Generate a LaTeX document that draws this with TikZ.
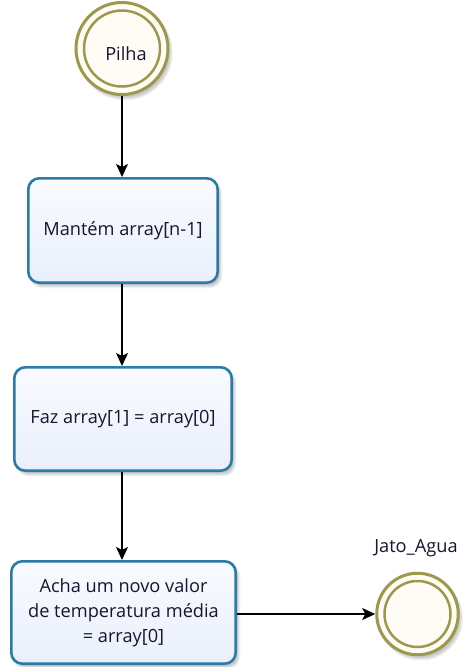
\documentclass[tikz,border=0pt]{standalone}
\usepackage{fontspec}
\setmainfont{Open Sans}
\usetikzlibrary{arrows.meta,shadows.blur}

\definecolor{ring}{HTML}{9C984E}
\definecolor{cream}{HTML}{FEFCF4}
\definecolor{taskedge}{HTML}{2A7BA6}
\definecolor{tasktop}{HTML}{F9FBFF}
\definecolor{taskbot}{HTML}{E9EFFB}
\definecolor{ink}{HTML}{16162E}

\begin{document}
\begin{tikzpicture}[x=1pt,y=1pt,
  font=\fontsize{18.2}{25}\selectfont, text=ink,
  softshadow/.style={blur shadow={shadow xshift=3pt, shadow yshift=-4pt,
      shadow blur steps=6, shadow blur extra rounding=2pt, shadow opacity=22}},
  task/.style={draw=taskedge, line width=2.6pt, rounded corners=11pt,
      top color=tasktop, bottom color=taskbot, align=center, softshadow},
  event/.style={circle, draw=ring, line width=3pt, fill=cream, softshadow},
  innerring/.style={draw=ring, line width=2.5pt},
  flow/.style={draw=black, line width=1.3pt,
      -{Stealth[length=13pt,width=12pt,inset=3pt]}}
]
\useasboundingbox (0,0) rectangle (465,-667);

% start event
\node[event, minimum size=92pt] (pilha) at (122,-48.5) {};
\draw[innerring] (pilha.center) circle (38);
\node (pilhatxt) at (126,-54) {Pilha};

% tasks
\node[task, minimum width=189.4pt, minimum height=104.4pt] (keep) at (123,-230.5)
  {Mantém array[n-1]};
\node[task, minimum width=217.4pt, minimum height=103.4pt] (copy) at (123,-419)
  {Faz array[1] = array[0]};
\node[task, minimum width=224.4pt, minimum height=102.4pt] (calc) at (123.5,-612.5)
  {Acha um novo valor\\de temperatura média\\= array[0]};

% end event
\node[event, minimum size=81.5pt] (jato) at (417.5,-614) {};
\draw[innerring] (jato.center) circle (33);
\node (jatotxt) at (416,-548) {Jato\_Agua};

% sequence flows
\draw[flow] (pilha.south) -- (pilha.south |- keep.north);
\draw[flow] (pilha.south |- keep.south) -- (pilha.south |- copy.north);
\draw[flow] (pilha.south |- copy.south) -- (pilha.south |- calc.north);
\draw[flow] (jato.west -| calc.east) -- (jato.west);
\end{tikzpicture}
\end{document}
